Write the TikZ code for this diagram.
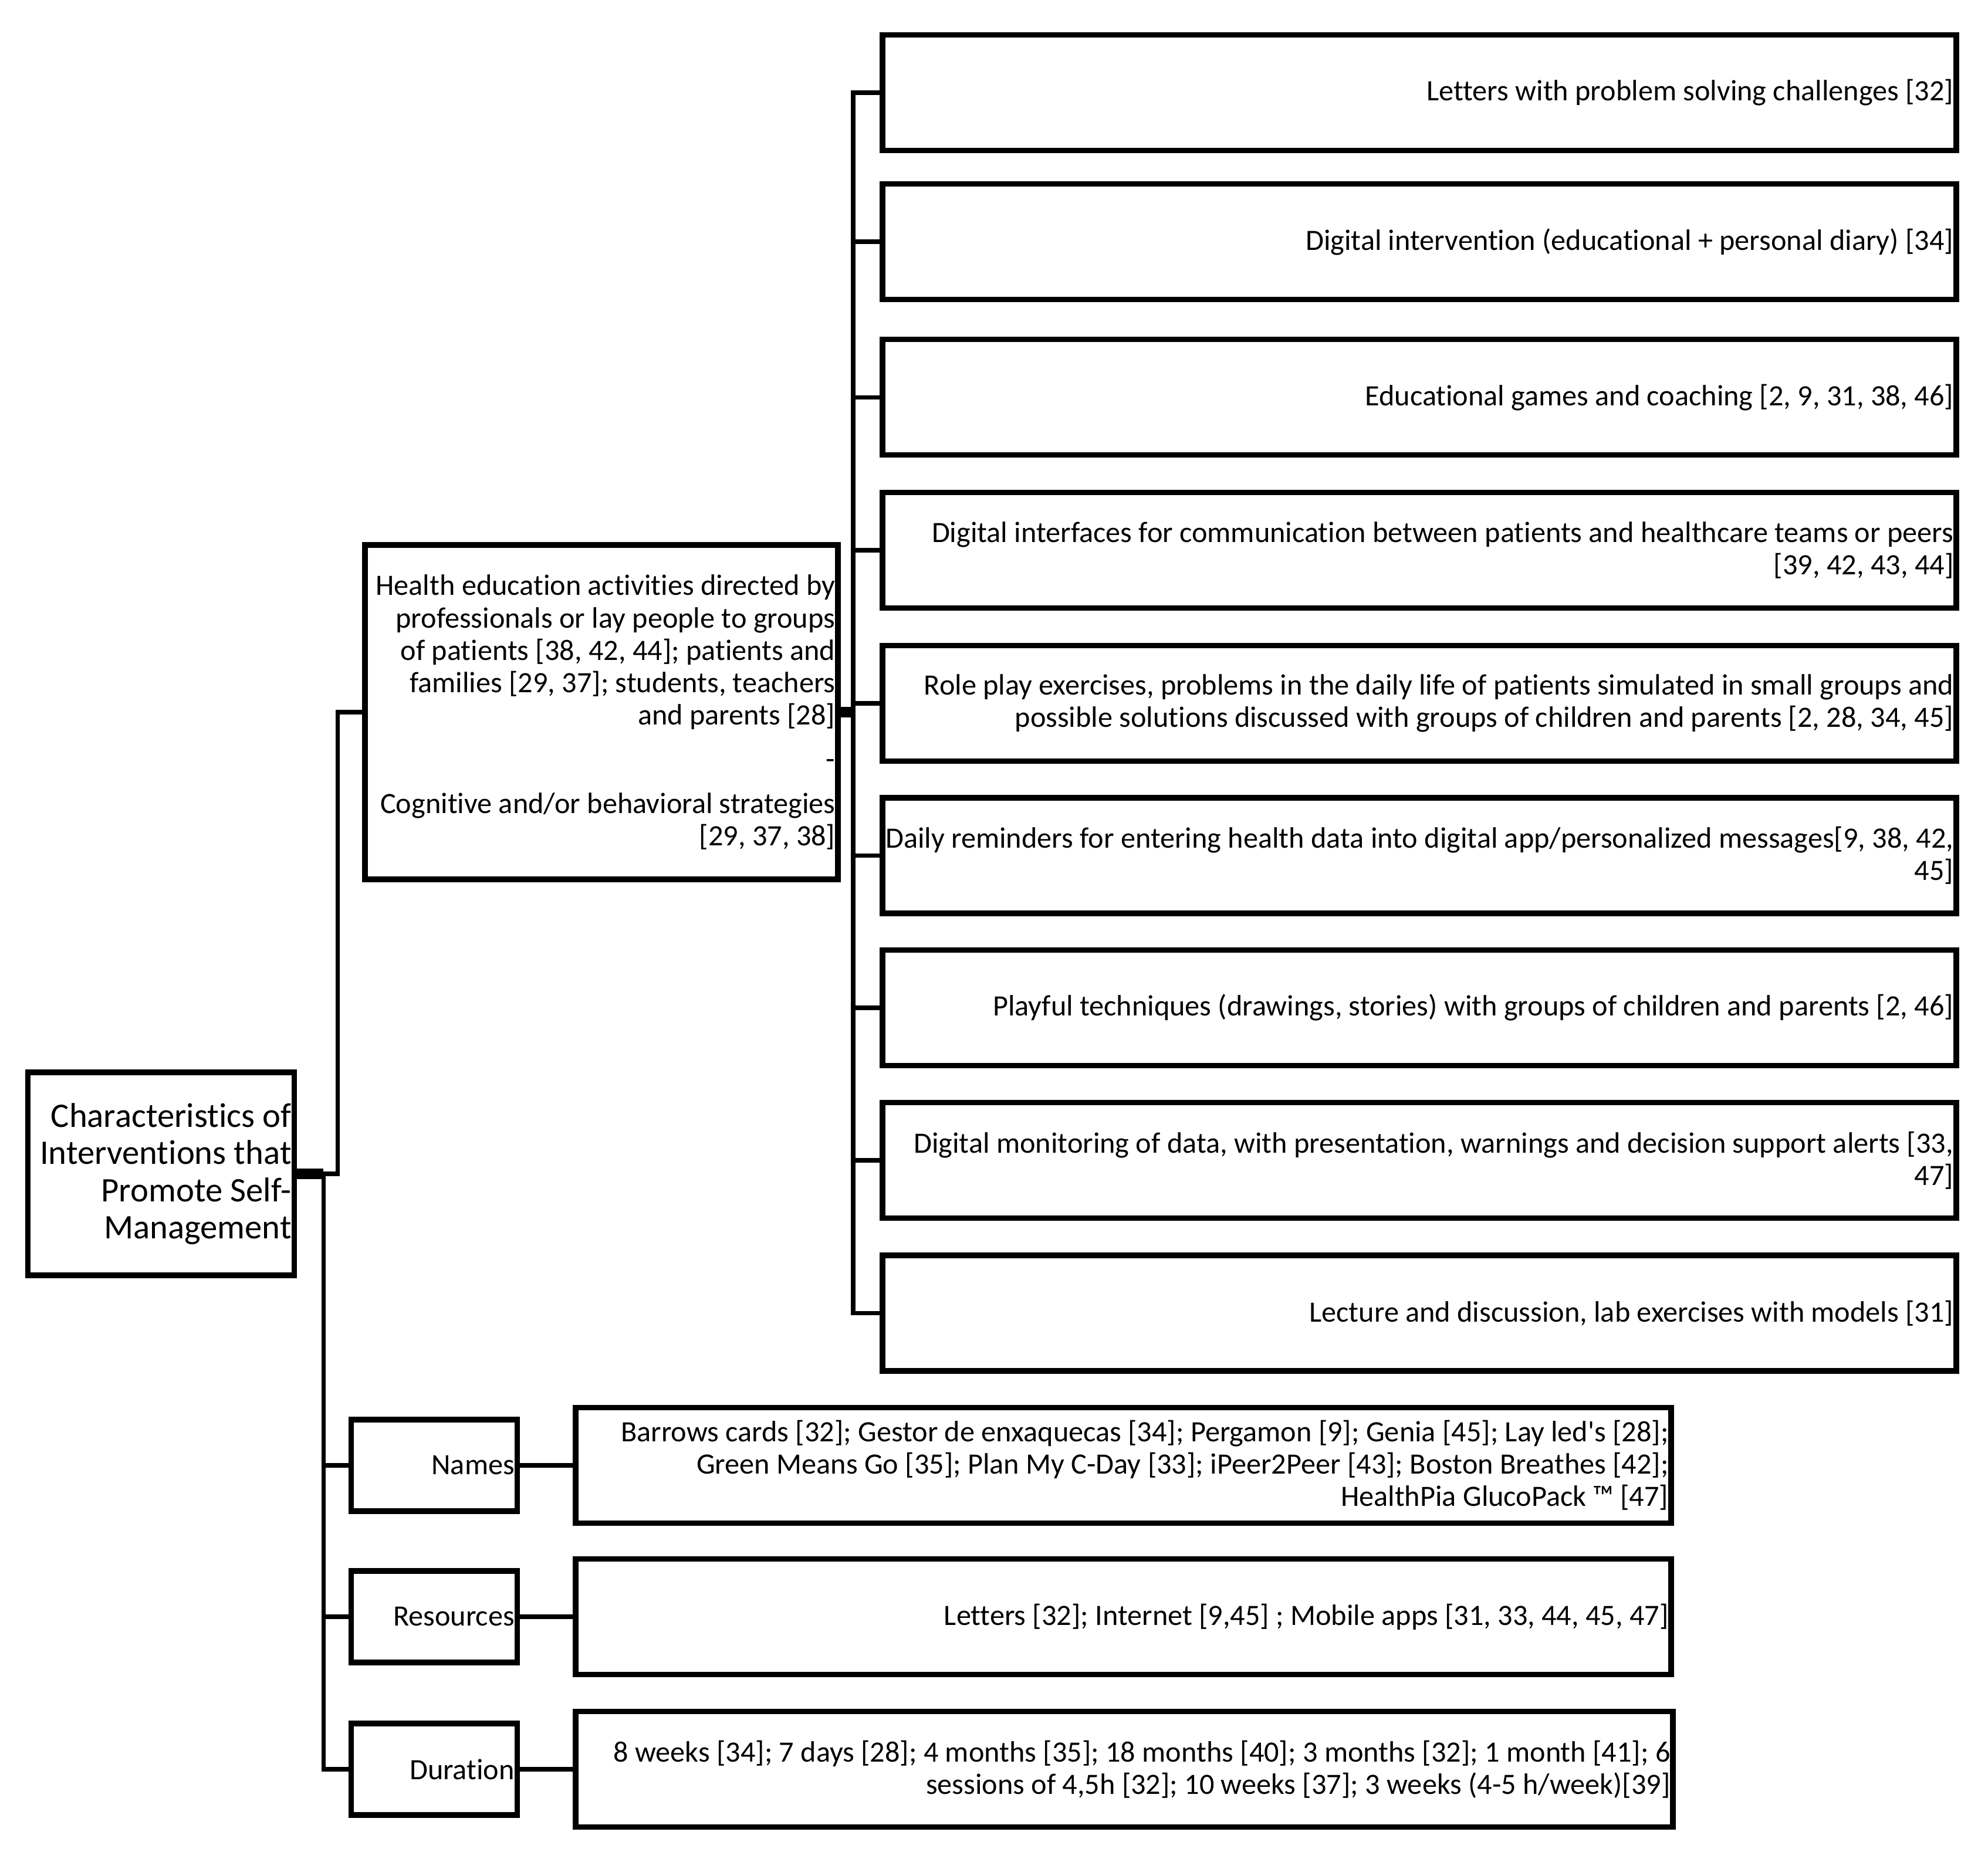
\documentclass[tikz,border=0pt]{standalone}
\usepackage{fontspec}
\setmainfont{Carlito}[Ligatures={NoCommon}]
\usepackage{tikz}
\usetikzlibrary{positioning,calc}
\tikzstyle{cadre}=[draw, line width=2.6pt, inner sep=0pt, outer sep=0pt]
\tikzstyle{texte}=[anchor=east, align=right, inner xsep=0.04cm, inner ysep=0pt, font=\fontsize{14.3}{15.7}\selectfont]
\tikzstyle{grandtexte}=[texte, font=\fontsize{16.7}{18}\selectfont]
\tikzstyle{lien}=[line width=2.2pt]
\tikzstyle{jonction}=[line width=5pt]

\begin{document}
\begin{tikzpicture}

\useasboundingbox (0,0) rectangle (33.88,-31.68);

% racine
\node[cadre, minimum width=4.54cm, minimum height=3.46cm] (root) at (2.744,-20.01) {};
\node[grandtexte] (roott) at (root.east) {Characteristics of\\Interventions that\\Promote Self-\\Management};

% activites
\node[cadre, minimum width=8.06cm, minimum height=5.70cm] (health) at (10.25,-12.14) {};
\node[texte] (healtht) at (health.east) {Health education activities directed by\\professionals or lay people to groups\\of patients [38, 42, 44]; patients and\\families [29, 37]; students, teachers\\and parents [28]\\[0.2cm]-\\[0.2cm]Cognitive and/or behavioral strategies\\{}[29, 37, 38]};

% boites de droite
\node[cadre, minimum width=18.30cm, minimum height=1.97cm] (b1) at (24.19,-1.577) {};
\node[texte] (b1t) at (b1.east) {Letters with problem solving challenges [32]};

\node[cadre, minimum width=18.30cm, minimum height=1.97cm] (b2) at (24.19,-4.12) {};
\node[texte] (b2t) at (b2.east) {Digital intervention (educational + personal diary) [34]};

\node[cadre, minimum width=18.30cm, minimum height=1.97cm] (b3) at (24.19,-6.774) {};
\node[texte] (b3t) at (b3.east) {Educational games and coaching [2, 9, 31, 38, 46]};

\node[cadre, minimum width=18.30cm, minimum height=1.97cm] (b4) at (24.19,-9.377) {};
\node[texte] (b4t) at (b4.east) {Digital interfaces for communication between patients and healthcare teams or peers\\{}[39, 42, 43, 44]};

\node[cadre, minimum width=18.30cm, minimum height=1.97cm] (b5) at (24.19,-11.992) {};
\node[texte] (b5t) at (b5.east) {Role play exercises, problems in the daily life of patients simulated in small groups and\\possible solutions discussed with groups of children and parents [2, 28, 34, 45]};

\node[cadre, minimum width=18.30cm, minimum height=1.97cm] (b6) at (24.19,-14.585) {};
\node[texte] (b6t) at (b6.east) {Daily reminders for entering health data into digital app/personalized messages[9, 38, 42,\\45]};

\node[cadre, minimum width=18.30cm, minimum height=1.97cm] (b7) at (24.19,-17.178) {};
\node[texte] (b7t) at (b7.east) {Playful techniques (drawings, stories) with groups of children and parents [2, 46]};

\node[cadre, minimum width=18.30cm, minimum height=1.97cm] (b8) at (24.19,-19.781) {};
\node[texte] (b8t) at (b8.east) {Digital monitoring of data, with presentation, warnings and decision support alerts [33,\\47]};

\node[cadre, minimum width=18.30cm, minimum height=1.97cm] (b9) at (24.19,-22.385) {};
\node[texte] (b9t) at (b9.east) {Lecture and discussion, lab exercises with models [31]};

% noms, ressources, duree
\node[cadre, minimum width=2.83cm, minimum height=1.56cm] (names) at (7.40,-24.98) {};
\node[texte] (namest) at (names.east) {Names};
\node[cadre, minimum width=18.67cm, minimum height=1.97cm] (nd) at (19.145,-24.98) {};
\node[texte] (ndt) at (nd.east) {Barrows cards [32]; Gestor de enxaquecas [34]; Pergamon [9]; Genia [45]; Lay led\textquotesingle s [28];\\Green Means Go [35]; Plan My C-Day [33]; iPeer2Peer [43]; Boston Breathes [42];\\HealthPia GlucoPack ™ [47]};

\node[cadre, minimum width=2.83cm, minimum height=1.56cm] (resources) at (7.40,-27.56) {};
\node[texte] (resourcest) at (resources.east) {Resources};
\node[cadre, minimum width=18.67cm, minimum height=1.97cm] (rd) at (19.145,-27.56) {};
\node[texte] (rdt) at (rd.east) {Letters [32]; Internet [9,45] ; Mobile apps [31, 33, 44, 45, 47]};

\node[cadre, minimum width=2.83cm, minimum height=1.56cm] (duration) at (7.40,-30.16) {};
\node[texte] (durationt) at (duration.east) {Duration};
\node[cadre, minimum width=18.70cm, minimum height=1.97cm] (dd) at (19.16,-30.16) {};
\node[texte] (ddt) at (dd.east) {8 weeks [34]; 7 days [28]; 4 months [35]; 18 months [40]; 3 months [32]; 1 month [41]; 6\\sessions of 4,5h [32]; 10 weeks [37]; 3 weeks (4-5 h/week)[39]};

% troncs
\coordinate (haut) at ($(root.east)+(0.74,0)$);
\coordinate (bas) at ($(root.east)+(0.50,0)$);
\coordinate (epine) at ($(health.east)+(0.26,0)$);

% liens racine
\draw[jonction] (root.east) -- (bas);
\draw[lien] (bas) -- (haut) |- (health.west);
\draw[lien] (bas) |- (duration.west);
\draw[lien] (names.west) -- (names.west -| bas);
\draw[lien] (resources.west) -- (resources.west -| bas);

% liens activites
\draw[jonction] (health.east) -- (epine);
\draw[lien] (b1.west) -- (b1.west -| epine) |- (b9.west);
\draw[lien] (b2.west) -- (b2.west -| epine);
\draw[lien] (b3.west) -- (b3.west -| epine);
\draw[lien] (b4.west) -- (b4.west -| epine);
\draw[lien] (b5.west) -- (b5.west -| epine);
\draw[lien] (b6.west) -- (b6.west -| epine);
\draw[lien] (b7.west) -- (b7.west -| epine);
\draw[lien] (b8.west) -- (b8.west -| epine);

% details
\draw[lien] (names.east) -- (nd.west);
\draw[lien] (resources.east) -- (rd.west);
\draw[lien] (duration.east) -- (dd.west);

\end{tikzpicture}
\end{document}
